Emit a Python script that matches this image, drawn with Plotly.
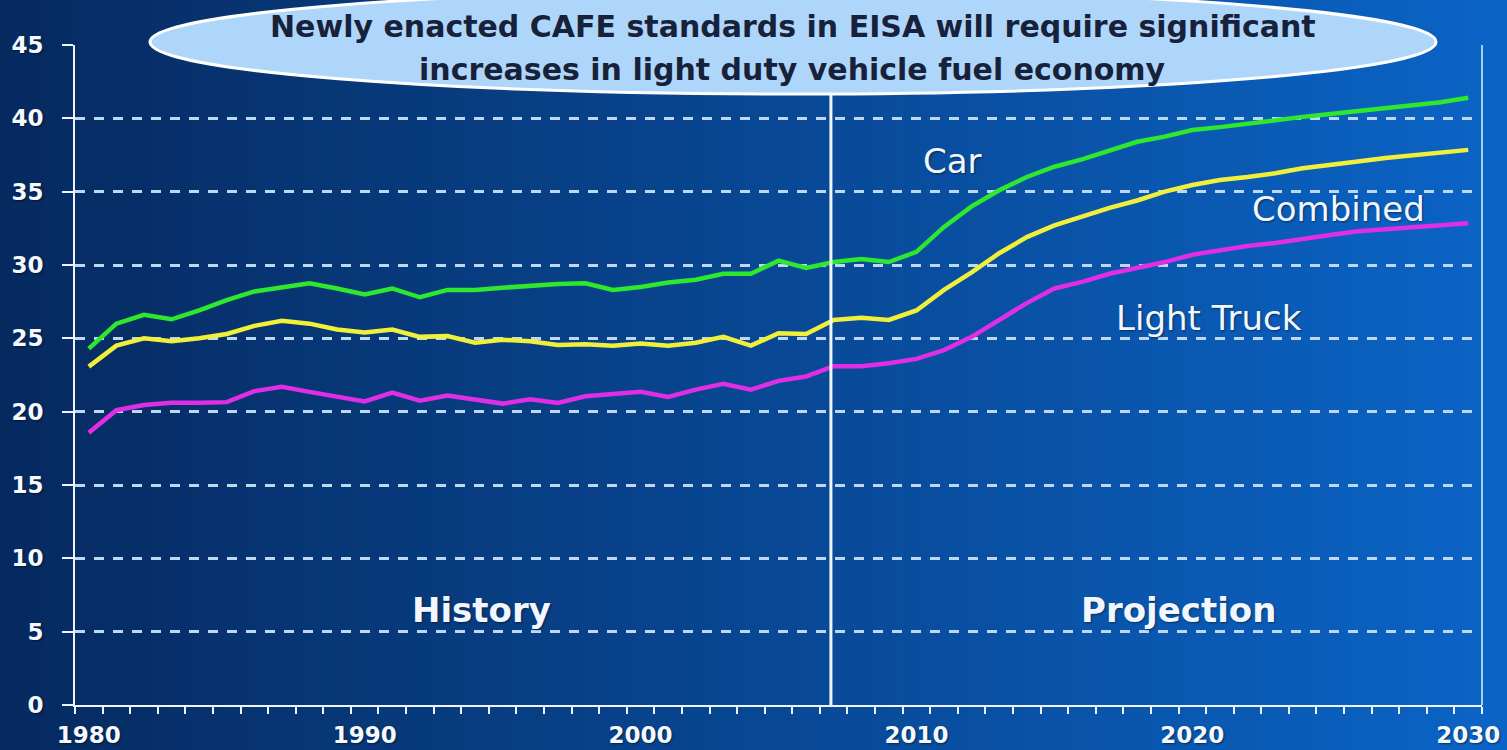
import plotly.graph_objects as go

years = list(range(1980, 2031))

car = [24.3, 26.0, 26.6, 26.3, 26.9, 27.6, 28.2, 28.5, 28.75, 28.4,
       28.0, 28.4, 27.8, 28.3, 28.3, 28.45, 28.6, 28.7, 28.75, 28.3,
       28.5, 28.8, 29.0, 29.4, 29.4, 30.3, 29.8, 30.2, 30.4, 30.2,
       30.9, 32.6, 34.0, 35.1, 36.0, 36.7, 37.2, 37.8, 38.4, 38.75,
       39.2, 39.4, 39.65, 39.9, 40.1, 40.3, 40.5, 40.7, 40.9, 41.1, 41.4]

combined = [23.07, 24.5, 25.0, 24.8, 25.0, 25.3, 25.85, 26.2, 26.0, 25.6,
            25.4, 25.6, 25.1, 25.15, 24.7, 24.9, 24.8, 24.55, 24.6, 24.5,
            24.65, 24.5, 24.7, 25.1, 24.5, 25.35, 25.3, 26.25, 26.4, 26.25,
            26.9, 28.3, 29.5, 30.8, 31.9, 32.7, 33.3, 33.9, 34.4, 35.0,
            35.45, 35.8, 36.0, 36.25, 36.6, 36.8, 37.05, 37.3, 37.5, 37.65, 37.85]

light_truck = [18.57, 20.1, 20.45, 20.6, 20.6, 20.65, 21.4, 21.7, 21.35, 21.0,
               20.7, 21.3, 20.75, 21.1, 20.8, 20.55, 20.85, 20.6, 21.05, 21.2,
               21.35, 21.0, 21.5, 21.9, 21.5, 22.1, 22.4, 23.1, 23.1, 23.3,
               23.6, 24.2, 25.1, 26.25, 27.4, 28.4, 28.85, 29.4, 29.8, 30.2,
               30.7, 31.0, 31.3, 31.5, 31.8, 32.05, 32.3, 32.45, 32.6, 32.7, 32.85]

x_tick_vals = [1980, 1990, 2000, 2010, 2020, 2030]
y_tick_vals = [0, 5, 10, 15, 20, 25, 30, 35, 40, 45]
history_end = 2006.9

FONT = "DejaVu Sans"
W, H = 1507, 750
ML, MR, MT, MB = 75, 25, 45, 45
PW, PH = W - ML - MR, H - MT - MB

def px2paper_x(px):
    return (px - ML) / PW

def px2paper_y(py):
    return (H - MB - py) / PH

fig = go.Figure()

series = [
    ("Car", car, "#2ee82e"),
    ("Combined", combined, "#f0f03a"),
    ("Light Truck", light_truck, "#e02de6"),
]
for name, vals, col in series:
    fig.add_trace(go.Scatter(x=years, y=vals, mode="lines", name=name,
                             line=dict(color=col, width=4.5), showlegend=False,
                             hoverinfo="skip"))

shapes = []
# background gradient (left dark navy -> right bright blue)
N = 140
c0 = (6, 42, 96)
c1 = (11, 100, 198)
xl, xr = px2paper_x(0), px2paper_x(W)
yb, yt = px2paper_y(H), px2paper_y(0)
for i in range(N):
    t = i / (N - 1)
    r = round(c0[0] + (c1[0] - c0[0]) * t)
    g = round(c0[1] + (c1[1] - c0[1]) * t)
    b = round(c0[2] + (c1[2] - c0[2]) * t)
    a = xl + (xr - xl) * i / N
    bb = xl + (xr - xl) * (i + 1) / N + 0.001
    shapes.append(dict(type="rect", xref="paper", yref="paper", x0=a, x1=bb,
                       y0=yb, y1=yt, fillcolor=f"rgb({r},{g},{b})",
                       line=dict(width=0), layer="below"))

# right border line
shapes.append(dict(type="line", xref="paper", yref="paper", x0=1, x1=1, y0=0, y1=1,
                   line=dict(color="#a9cff2", width=2), layer="above"))
# history/projection divider
shapes.append(dict(type="line", xref="x", yref="paper", x0=history_end, x1=history_end,
                   y0=0, y1=1, line=dict(color="#f2f6ff", width=3), layer="above"))
# ellipse callout
shapes.append(dict(type="circle", xref="paper", yref="paper",
                   x0=px2paper_x(150), x1=px2paper_x(1436),
                   y0=px2paper_y(94), y1=px2paper_y(-10),
                   fillcolor="#aed6fa", line=dict(color="#ffffff", width=3),
                   layer="above"))

annotations = [
    dict(xref="paper", yref="paper", x=px2paper_x(793), y=px2paper_y(27),
         text="Newly enacted <b>CAFE</b> standards in <b>EISA</b> will require significant",
         showarrow=False, xanchor="center", yanchor="middle",
         font=dict(family=FONT, size=30, color="#17223a", weight="bold")),
    dict(xref="paper", yref="paper", x=px2paper_x(793), y=px2paper_y(69),
         text="increases in light duty vehicle fuel economy",
         showarrow=False, xanchor="center", yanchor="middle",
         font=dict(family=FONT, size=30, color="#17223a", weight="bold")),
]

labels = [
    ("Car", 2011.3, 37.1, "normal"),
    ("Combined", 2025.3, 33.8, "normal"),
    ("Light Truck", 2020.6, 26.4, "normal"),
    ("History", 1994.25, 6.5, "bold"),
    ("Projection", 2019.5, 6.5, "bold"),
]
for txt, lx, ly, wt in labels:
    annotations.append(dict(xref="x", yref="y", x=lx, y=ly, text=txt, showarrow=False,
                            xanchor="center", yanchor="middle",
                            font=dict(family=FONT, size=34,
                                      color="#f2f6ff", weight=wt,
                                      shadow="1px 1px 2px rgba(0,0,0,0.45)")))

fig.update_layout(
    width=W, height=H,
    margin=dict(l=ML, r=MR, t=MT, b=MB, pad=0, autoexpand=False),
    paper_bgcolor="#0a4a96",
    plot_bgcolor="rgba(0,0,0,0)",
    shapes=shapes,
    annotations=annotations,
    showlegend=False,
    xaxis=dict(
        range=[1979.5, 2030.5], tickvals=x_tick_vals, ticktext=[str(v) for v in x_tick_vals],
        ticks="outside", ticklen=8, tickcolor="rgba(0,0,0,0)", ticklabelstandoff=0,
        automargin=False,
        showgrid=False, zeroline=False, showline=True, linecolor="#eef4ff", linewidth=2,
        tickfont=dict(family=FONT, size=23, color="#f4f8ff", weight="bold",
                      shadow="1px 1px 2px rgba(0,0,0,0.5)"),
        minor=dict(tick0=1979.5, dtick=1, ticks="outside", ticklen=7,
                   tickcolor="#eef4ff", tickwidth=2, showgrid=False),
        fixedrange=True,
    ),
    yaxis=dict(
        range=[0, 45], tickvals=y_tick_vals, ticks="outside", ticklen=11,
        tickcolor="#eef4ff", tickwidth=2, ticklabelstandoff=14,
        automargin=False,
        showgrid=True, gridcolor="#bcd8f4", gridwidth=3, griddash="10px,9px",
        zeroline=False, showline=True, linecolor="#eef4ff", linewidth=2,
        tickfont=dict(family=FONT, size=23, color="#f4f8ff", weight="bold",
                      shadow="1px 1px 2px rgba(0,0,0,0.5)"),
        fixedrange=True,
    ),
)

fig.write_html("out.html")
